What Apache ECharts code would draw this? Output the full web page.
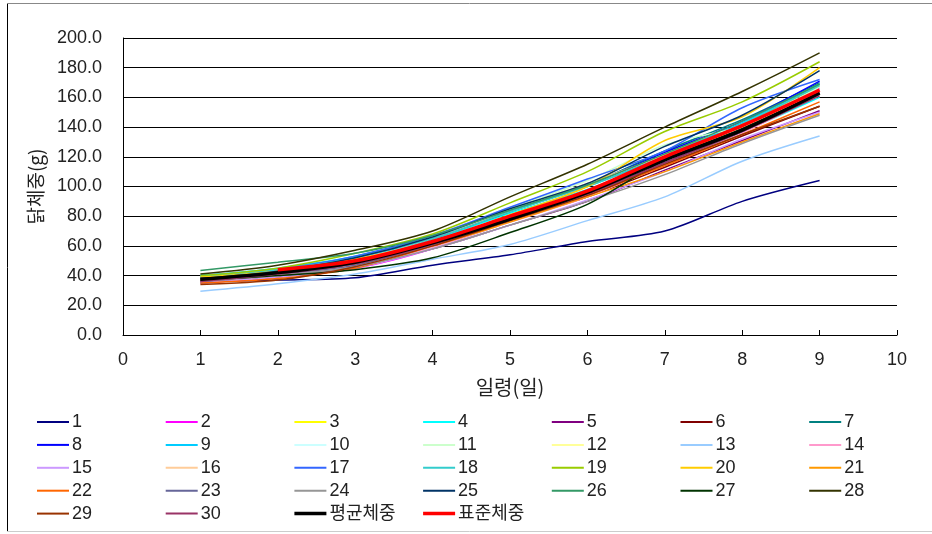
<!DOCTYPE html>
<html>
<head>
<meta charset="utf-8">
<script src="https://cdn.jsdelivr.net/npm/echarts@6/dist/echarts.min.js"></script>
<style>html,body{margin:0;padding:0;background:#fff}#c{width:932px;height:534px}</style>
</head>
<body>
<div id="c"></div>
<script>
var days = [1, 2, 3, 4, 5, 6, 7, 8, 9];
var yTicks = [0, 20, 40, 60, 80, 100, 120, 140, 160, 180, 200];
var xTitle = '일령(일)';
var yTitle = '닭체중(g)';

var s1  = [36, 37, 38.5, 47, 54, 63, 70, 90, 104];
var s2  = [37, 41, 45, 58, 77, 93, 116, 139, 166];
var s3  = [38, 42, 48, 60, 78, 96, 122, 142, 168];
var s4  = [40, 44, 51, 64, 82, 98, 118, 137, 160];
var s5  = [35, 39, 46, 58, 74, 90, 111, 131, 151];
var s6  = [37, 42, 48, 61, 77, 93, 113, 134, 154];
var s7  = [39, 44, 52, 65, 83, 101, 124, 145, 170];
var s8  = [38, 43, 51, 65, 84, 101, 123, 144, 171];
var s9  = [40, 45, 53, 66, 84, 100, 121, 143, 169];
var s10 = [37, 41, 47, 59, 76, 94, 117, 139, 165];
var s11 = [39, 44, 52, 66, 85, 104, 128, 141, 167];
var s12 = [38, 42, 49, 62, 80, 97, 119, 140, 164];
var s13 = [29.5, 34.5, 41, 51, 61, 77, 93, 117, 134];
var s14 = [36, 40, 46, 59, 76, 93, 115, 136, 162];
var s15 = [35, 39, 45, 58, 74, 91, 110, 132, 150];
var s16 = [38, 43, 51, 65, 84, 102, 121, 140, 164];
var s17 = [38, 44, 53, 67, 86, 105, 124, 153, 172];
var s18 = [39, 44, 52, 65, 83, 100, 120, 142, 168];
var s19 = [40, 45, 55, 68, 89, 110, 137, 157, 184];
var s20 = [39, 43, 51, 63, 81, 100, 131, 147, 180];
var s21 = [37, 42, 48, 60, 76, 93, 110, 130, 149];
var s22 = [35, 38, 45, 60, 77, 94, 114, 135, 157];
var s23 = [36, 41, 47, 61, 78, 95, 116, 137, 162];
var s24 = [36, 40, 46, 58, 74, 90, 108, 129, 148];
var s25 = [38, 43, 52, 66, 85, 102, 127, 148, 178];
var s26 = [43.5, 49, 55, 67, 84, 101, 122, 144, 169];
var s27 = [37, 40, 44, 52, 69, 88, 118, 139, 163];
var s28 = [41, 47, 57, 70, 93, 115, 140, 164, 190];
var s29 = [34, 37, 46, 60, 77, 94, 115, 135, 154];
var s30 = [36, 41, 48, 61, 78, 95, 116, 137, 161];
var avgWeight = [37.5, 42, 49, 62, 78, 96, 118, 138, 163];
var stdWeight = [null, 44, 50, 63, 80, 97, 120, 141, 165];

var seriesNames = ['1','2','3','4','5','6','7','8','9','10','11','12','13','14','15','16','17','18','19','20','21','22','23','24','25','26','27','28','29','30','평균체중','표준체중'];
var seriesValues = [s1,s2,s3,s4,s5,s6,s7,s8,s9,s10,s11,s12,s13,s14,s15,s16,s17,s18,s19,s20,s21,s22,s23,s24,s25,s26,s27,s28,s29,s30,avgWeight,stdWeight];
var seriesColors = ['#000080','#FF00FF','#FFFF00','#00FFFF','#800080','#800000','#008080','#0000FF','#00CCFF','#CCFFFF','#CCFFCC','#FFFF99','#99CCFF','#FF99CC','#CC99FF','#FFCC99','#3366FF','#33CCCC','#99CC00','#FFCC00','#FF9900','#FF6600','#666699','#969696','#003366','#339966','#003300','#333300','#993300','#993366','#000000','#FF0000'];

var chart = echarts.init(document.getElementById('c'), null, {renderer: 'canvas'});
var series = [];
var legends = [];
var colX0 = 37, colW = 128.7, rowY0 = 413, rowH = 22.9;
for (var i = 0; i < seriesNames.length; i++) {
  var data = [];
  for (var d = 0; d < days.length; d++) {
    data.push([days[d], seriesValues[i][d]]);
  }
  var thick = i >= 30;
  series.push({
    name: seriesNames[i],
    type: 'line',
    data: data,
    smooth: 0.3,
    symbol: 'none',
    connectNulls: false,
    color: seriesColors[i],
    lineStyle: {width: thick ? 3.5 : 1.5, color: seriesColors[i]},
    z: thick ? 3 + i - 30 : 2,
    animation: false
  });
  var col = i % 7, row = Math.floor(i / 7);
  legends.push({
    data: [{name: seriesNames[i], icon: 'rect'}],
    left: colX0 + col * colW,
    top: rowY0 + row * rowH,
    itemWidth: 32,
    itemHeight: thick ? 3.5 : 2,
    itemGap: 0,
    padding: 0,
    itemStyle: {color: seriesColors[i], borderWidth: 0},
    textStyle: {fontSize: 18, color: '#222', fontFamily: 'Liberation Sans, Noto Sans CJK KR', padding: [0, 0, 0, -2]},
    selectedMode: false
  });
}

var option = {
  backgroundColor: '#fff',
  animation: false,
  grid: {left: 123, right: 35, top: 38, bottom: 199},
  legend: legends,
  xAxis: {
    type: 'value', min: 0, max: 10, interval: 1,
    name: xTitle, nameLocation: 'middle', nameGap: 42,
    nameTextStyle: {fontSize: 20, color: '#222', fontFamily: 'Noto Sans CJK KR'},
    axisLine: {show: true, lineStyle: {color: '#000', width: 1}},
    axisTick: {show: true, inside: true, length: 5, lineStyle: {color: '#000'}},
    axisLabel: {fontSize: 18, color: '#222', margin: 16, fontFamily: 'Liberation Sans'},
    splitLine: {show: false}
  },
  yAxis: {
    type: 'value', min: yTicks[0], max: yTicks[yTicks.length - 1], interval: 20,
    name: yTitle, nameLocation: 'middle', nameGap: 78, nameRotate: 90,
    nameTextStyle: {fontSize: 19, color: '#222', fontFamily: 'Noto Sans CJK KR'},
    axisLine: {show: true, lineStyle: {color: '#000', width: 1}},
    axisTick: {show: false},
    axisLabel: {fontSize: 18, color: '#222', margin: 21, fontFamily: 'Liberation Sans',
      formatter: function (v) { return v.toFixed(1); }},
    splitLine: {show: true, lineStyle: {color: '#000', width: 1}}
  },
  graphic: [
    {type: 'line', shape: {x1: 7.5, y1: 3, x2: 7.5, y2: 532}, style: {stroke: '#000', lineWidth: 1}},
    {type: 'line', shape: {x1: 7, y1: 3.5, x2: 932, y2: 3.5}, style: {stroke: '#888', lineWidth: 1}},
    {type: 'line', shape: {x1: 7, y1: 531.5, x2: 932, y2: 531.5}, style: {stroke: '#ccc', lineWidth: 1}}
  ],
  series: series
};
chart.setOption(option);
</script>
</body>
</html>
